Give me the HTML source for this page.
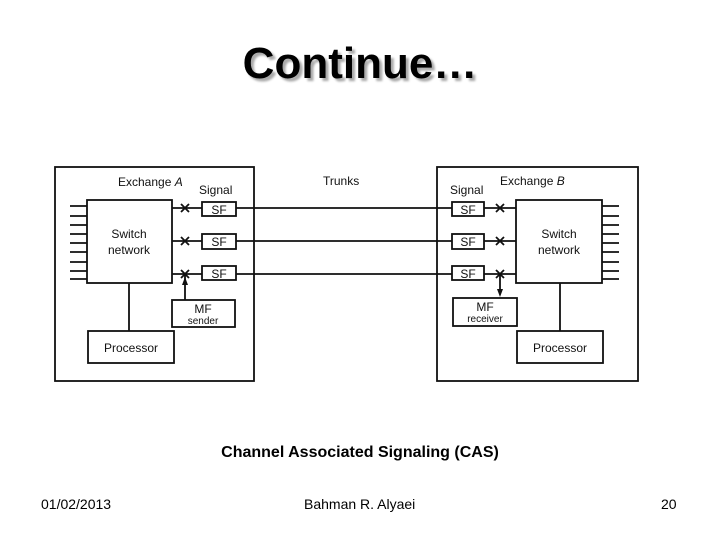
<!DOCTYPE html>
<html><head><style>
body{margin:0;width:720px;height:540px;background:#fff;overflow:hidden;position:relative;font-family:"Liberation Sans",sans-serif}
.t{position:absolute;left:0;width:720px;text-align:center;top:39px;font-size:44px;font-weight:bold;color:#000;text-shadow:3px 3px 2px #aaa}
.c{position:absolute;left:0;width:720px;text-align:center;top:444px;font-size:16px;font-weight:bold}
.f{position:absolute;top:496px;font-size:14px}
</style></head><body>
<div class="t">Continue…</div>
<svg width="720" height="540" style="position:absolute;left:0;top:0" font-family="Liberation Sans,sans-serif" font-size="12">
<g fill="none" stroke="#111" stroke-width="1.8">
<rect x="55" y="167" width="199" height="214"/>
<rect x="437" y="167" width="201" height="214"/>
<rect x="87" y="200" width="85" height="83"/>
<rect x="516" y="200" width="86" height="83"/>
<rect x="202" y="202" width="34" height="14"/><rect x="202" y="234" width="34" height="15"/><rect x="202" y="266" width="34" height="14"/>
<rect x="452" y="202" width="32" height="14"/><rect x="452" y="234" width="32" height="15"/><rect x="452" y="266" width="32" height="14"/>
<rect x="172" y="300" width="63" height="27"/>
<rect x="453" y="298" width="64" height="28"/>
<rect x="88" y="331" width="86" height="32"/>
<rect x="517" y="331" width="86" height="32"/>
<path d="M129 283V331M560 283V331"/>
<path d="M172 208H202M172 241H202M172 274H202M236 208H452M236 241H452M236 274H452M484 208H516M484 241H516M484 274H516"/>
<path d="M185 274V300M500 274V294"/>
<path d="M70 206H87M70 216H87M70 225H87M70 234H87M70 243H87M70 252H87M70 262H87M70 271H87M70 279H87"/>
<path d="M602 206H619M602 216H619M602 225H619M602 234H619M602 243H619M602 252H619M602 262H619M602 271H619M602 279H619"/>
<path d="M181 204l8 8M189 204l-8 8M181 237l8 8M189 237l-8 8M181 270l8 8M189 270l-8 8M496 204l8 8M504 204l-8 8M496 237l8 8M504 237l-8 8M496 270l8 8M504 270l-8 8"/>
</g>
<path d="M185 277l-3 8h6zM500 297l-3-8h6z" fill="#111"/>
<g fill="#111">
<text x="118" y="186">Exchange <tspan font-style="italic">A</tspan></text>
<text x="199" y="194">Signal</text>
<text x="323" y="185">Trunks</text>
<text x="450" y="194">Signal</text>
<text x="500" y="185">Exchange <tspan font-style="italic">B</tspan></text>
<text x="129" y="238" text-anchor="middle">Switch</text><text x="129" y="254" text-anchor="middle">network</text>
<text x="559" y="238" text-anchor="middle">Switch</text><text x="559" y="254" text-anchor="middle">network</text>
<text x="219" y="214" text-anchor="middle">SF</text><text x="219" y="246" text-anchor="middle">SF</text><text x="219" y="278" text-anchor="middle">SF</text>
<text x="468" y="214" text-anchor="middle">SF</text><text x="468" y="246" text-anchor="middle">SF</text><text x="468" y="278" text-anchor="middle">SF</text>
<text x="203" y="313" text-anchor="middle">MF</text><text x="203" y="324" text-anchor="middle" font-size="10">sender</text>
<text x="485" y="311" text-anchor="middle">MF</text><text x="485" y="322" text-anchor="middle" font-size="10">receiver</text>
<text x="131" y="352" text-anchor="middle">Processor</text>
<text x="560" y="352" text-anchor="middle">Processor</text>
</g>
</svg>
<div class="c">Channel Associated Signaling (CAS)</div>
<div class="f" style="left:41px">01/02/2013</div>
<div class="f" style="left:304px">Bahman R. Alyaei</div>
<div class="f" style="left:661px">20</div>
</body></html>
